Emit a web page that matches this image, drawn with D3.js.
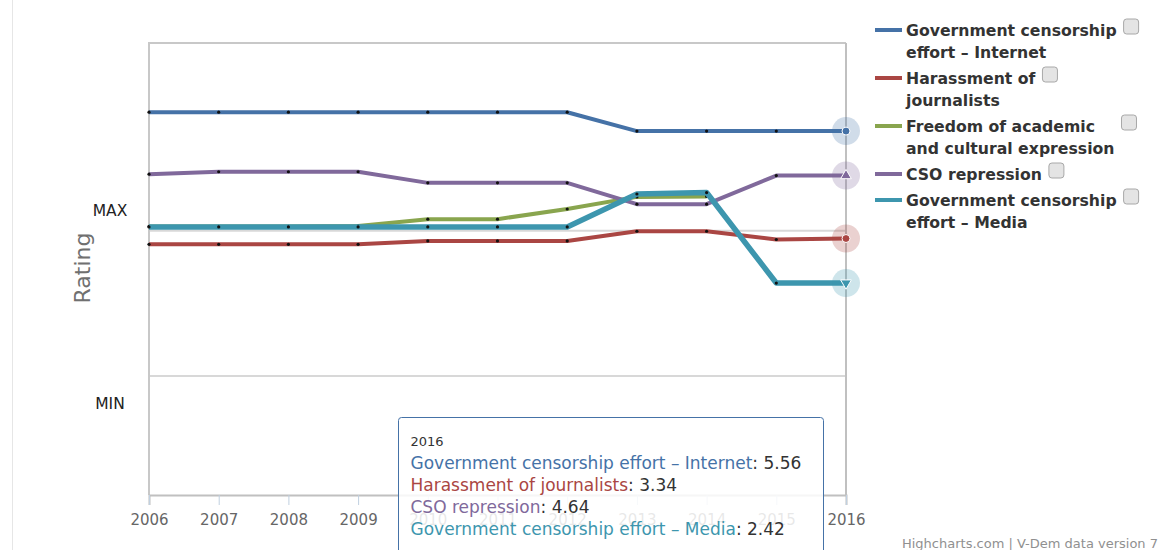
<!DOCTYPE html>
<html>
<head>
<meta charset="utf-8">
<script src="https://cdn.jsdelivr.net/npm/d3@7"></script>
<style>
  body { margin: 0; background: #fff; }
  svg { font-family: "DejaVu Sans", Verdana, sans-serif; }
</style>
</head>
<body>
<div id="chart"></div>
<script>
const years = [2006, 2007, 2008, 2009, 2010, 2011, 2012, 2013, 2014, 2015, 2016];
const internet   = [5.95, 5.95, 5.95, 5.95, 5.95, 5.95, 5.95, 5.56, 5.56, 5.56, 5.56];
const harassment = [3.22, 3.22, 3.22, 3.22, 3.29, 3.29, 3.29, 3.49, 3.49, 3.32, 3.34];
const academic   = [3.59, 3.59, 3.59, 3.60, 3.74, 3.74, 3.95, 4.20, 4.21, null, null];
const cso        = [4.67, 4.72, 4.72, 4.72, 4.49, 4.49, 4.49, 4.05, 4.05, 4.64, 4.64];
const media      = [3.58, 3.58, 3.58, 3.58, 3.58, 3.58, 3.58, 4.26, 4.29, 2.42, 2.42];

const seriesNames = [
  ["Government censorship", "effort – Internet"],
  ["Harassment of", "journalists"],
  ["Freedom of academic", "and cultural expression"],
  ["CSO repression"],
  ["Government censorship", "effort – Media"]
];
const tooltipNames = ["Government censorship effort – Internet", "Harassment of journalists",
  "Freedom of academic and cultural expression", "CSO repression", "Government censorship effort – Media"];
const colors = ["#4572A7", "#AA4643", "#89A54E", "#80699B", "#3D96AE"];
const symbols = [d3.symbolCircle, d3.symbolCircle, d3.symbolSquare, d3.symbolTriangle, "down"];
const yTicks = [3.5, 0.5];
const yTickLabels = ["MAX", "MIN"];
const hoverYear = 2016;

const series = [internet, harassment, academic, cso, media].map((vals, i) => ({
  name: tooltipNames[i], lines: seriesNames[i], color: colors[i], symbol: symbols[i],
  values: vals.map((v, j) => ({ year: years[j], value: v }))
}));

const W = 1160, H = 550;
const plot = { left: 149, right: 846, top: 43, bottom: 495 };

const svg = d3.select("#chart").append("svg")
  .attr("width", W).attr("height", H);

// faint page edge
svg.append("line").attr("x1", 12.5).attr("x2", 12.5).attr("y1", 0).attr("y2", H)
  .attr("stroke", "#e6e6e6").attr("stroke-width", 1);

const x = d3.scaleLinear().domain([2006, 2016]).range([plot.left, plot.right]);
const y = d3.scaleLinear().domain([-1.96, 7.38]).range([plot.bottom, plot.top]);

// grid lines
svg.selectAll(".grid").data(yTicks).enter().append("line")
  .attr("x1", plot.left).attr("x2", plot.right)
  .attr("y1", d => y(d)).attr("y2", d => y(d))
  .attr("stroke", "#d8d8d8").attr("stroke-width", 2);

// plot border (top + left)
svg.append("path")
  .attr("d", `M${plot.left},${plot.bottom}V${plot.top}H${plot.right}`)
  .attr("fill", "none").attr("stroke", "#c8c8c8").attr("stroke-width", 2);

// y labels
svg.selectAll(".ylab").data(yTicks).enter().append("text")
  .attr("x", 110).attr("y", d => y(d))
  .attr("dy", (d, i) => i === 0 ? -15 : 33)
  .attr("text-anchor", "middle").attr("font-size", 15.5).attr("fill", "#222")
  .text((d, i) => yTickLabels[i]);

svg.append("text")
  .attr("transform", "translate(90,268) rotate(-90)")
  .attr("text-anchor", "middle").attr("font-size", 22).attr("fill", "#707070")
  .text("Rating");

// x axis
const xAxis = svg.append("g").attr("transform", `translate(0,${plot.bottom})`)
  .call(d3.axisBottom(x).tickValues(years).tickFormat(d3.format("d")).tickSize(10).tickPadding(9));
xAxis.select(".domain").attr("stroke", "#c0c0c0").attr("stroke-width", 2);
xAxis.selectAll(".tick line").attr("stroke", "#c0d0e0").attr("stroke-width", 1);
xAxis.selectAll(".tick text").attr("font-size", 15).attr("fill", "#666")
  .attr("font-family", "DejaVu Sans, Verdana, sans-serif");

// crosshair
svg.append("line").attr("x1", x(hoverYear)).attr("x2", x(hoverYear))
  .attr("y1", plot.top).attr("y2", plot.bottom)
  .attr("stroke", "#c0c0c0").attr("stroke-width", 2);

// lines
const line = d3.line().defined(d => d.value != null)
  .x(d => x(d.year)).y(d => y(d.value));

series.forEach((s, i) => {
  svg.append("path").datum(s.values)
    .attr("d", line).attr("fill", "none")
    .attr("stroke", s.color).attr("stroke-width", i === 4 ? 5.5 : 4)
    .attr("stroke-linejoin", "round");
  svg.selectAll(null).data(s.values.filter(d => d.value != null && d.year !== hoverYear))
    .enter().append("circle")
    .attr("cx", d => x(d.year)).attr("cy", d => y(d.value))
    .attr("r", 1.6).attr("fill", "#111");
});

// hover markers at 2016
series.forEach(s => {
  const p = s.values.find(d => d.year === hoverYear);
  if (!p || p.value == null) return;
  const cx = x(p.year), cy = y(p.value);
  svg.append("circle").attr("cx", cx).attr("cy", cy).attr("r", 14)
    .attr("fill", s.color).attr("fill-opacity", 0.25);
  let sym = s.symbol === "down" ? d3.symbolTriangle : s.symbol;
  svg.append("path")
    .attr("d", d3.symbol().type(sym).size(50)())
    .attr("transform", `translate(${cx},${cy})` + (s.symbol === "down" ? " rotate(180)" : ""))
    .attr("fill", s.color).attr("stroke", "#fff").attr("stroke-width", 1);
});

// legend
let ly = 30;
series.forEach(s => {
  const g = svg.append("g");
  g.append("line").attr("x1", 875).attr("x2", 902).attr("y1", ly).attr("y2", ly)
    .attr("stroke", s.color).attr("stroke-width", 4);
  let maxW = 0;
  s.lines.forEach((t, k) => {
    const txt = g.append("text").attr("x", 906).attr("y", ly + k * 22 + 6)
      .attr("font-size", 15.7).attr("font-weight", "bold").attr("fill", "#333").text(t);
    maxW = Math.max(maxW, txt.node().getComputedTextLength());
  });
  g.append("rect").attr("x", 906 + maxW + 7).attr("y", ly - 11)
    .attr("width", 15).attr("height", 15).attr("rx", 3)
    .attr("fill", "#e4e4e4").attr("stroke", "#a8a8a8").attr("stroke-width", 1);
  ly += s.lines.length * 22 + 4;
});

// tooltip
const tip = svg.append("g").attr("transform", "translate(398.5,417.5)");
tip.append("rect").attr("width", 425).attr("height", 150).attr("rx", 3)
  .attr("fill", "#fff").attr("fill-opacity", 0.85)
  .attr("stroke", "#4572A7").attr("stroke-width", 1);
tip.append("text").attr("x", 12).attr("y", 28).attr("font-size", 13).attr("fill", "#333")
  .text(hoverYear);
let ty = 51;
series.forEach(s => {
  const p = s.values.find(d => d.year === hoverYear);
  if (!p || p.value == null) return;
  const t = tip.append("text").attr("x", 12).attr("y", ty).attr("font-size", 17);
  t.append("tspan").attr("fill", s.color).text(s.name);
  t.append("tspan").attr("fill", "#333").text(": " + p.value.toFixed(2));
  ty += 22;
});

// credits
svg.append("text").attr("x", 1158).attr("y", 548).attr("text-anchor", "end")
  .attr("font-size", 13).attr("fill", "#909090")
  .text("Highcharts.com | V-Dem data version 7");
</script>
</body>
</html>
